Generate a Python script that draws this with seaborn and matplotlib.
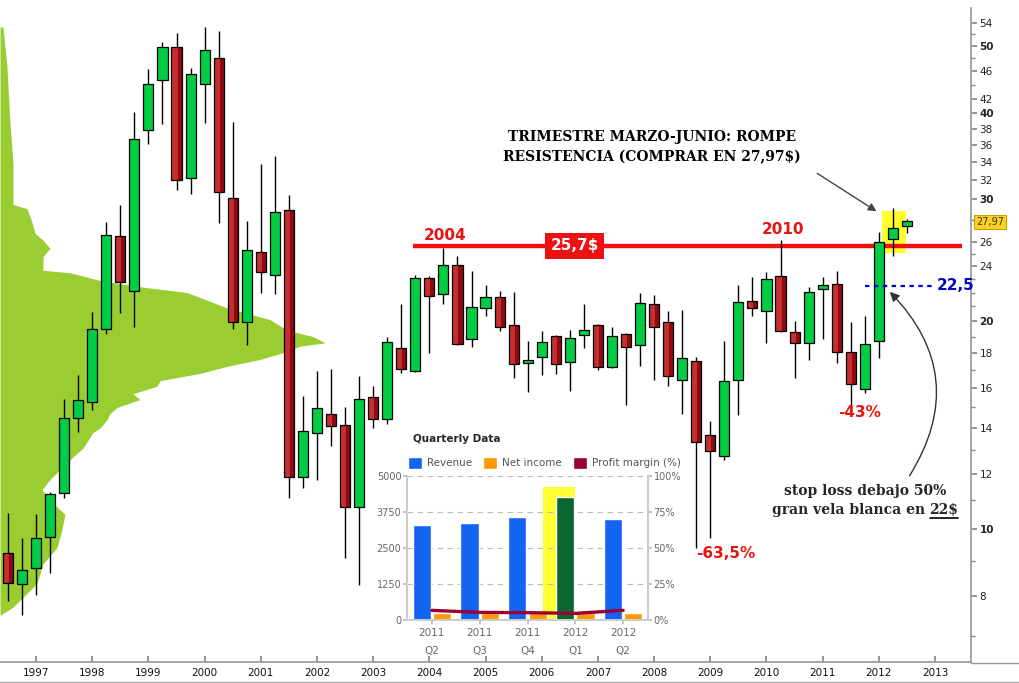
import numpy as np
import pandas as pd
import matplotlib
matplotlib.use("Agg")
import matplotlib.pyplot as plt
import seaborn as sns
from matplotlib.patches import Rectangle
from matplotlib.lines import Line2D

sns.set_theme(style="white")
plt.rcParams['font.family'] = ['DejaVu Sans']

# ---------------- data ----------------
periods = ["1996Q3", "1996Q4",
           "1997Q1", "1997Q2", "1997Q3", "1997Q4",
           "1998Q1", "1998Q2", "1998Q3", "1998Q4",
           "1999Q1", "1999Q2", "1999Q3", "1999Q4",
           "2000Q1", "2000Q2", "2000Q3", "2000Q4",
           "2001Q1", "2001Q2", "2001Q3", "2001Q4",
           "2002Q1", "2002Q2", "2002Q3", "2002Q4",
           "2003Q1", "2003Q2", "2003Q3", "2003Q4",
           "2004Q1", "2004Q2", "2004Q3", "2004Q4",
           "2005Q1", "2005Q2", "2005Q3", "2005Q4",
           "2006Q1", "2006Q2", "2006Q3", "2006Q4",
           "2007Q1", "2007Q2", "2007Q3", "2007Q4",
           "2008Q1", "2008Q2", "2008Q3", "2008Q4",
           "2009Q1", "2009Q2", "2009Q3", "2009Q4",
           "2010Q1", "2010Q2", "2010Q3", "2010Q4",
           "2011Q1", "2011Q2", "2011Q3", "2011Q4",
           "2012Q1", "2012Q2", "2012Q3"]

open_ = [9.23, 8.32,
         8.78, 9.74, 11.27, 14.48,
         15.27, 19.48, 26.56, 22.11,
         37.81, 44.68, 49.87, 32.22,
         44.09, 48.06, 30.14, 19.94,
         25.18, 23.32, 28.96, 11.89,
         13.77, 14.67, 14.15, 10.76,
         15.53, 14.43, 18.28, 16.94,
         23.09, 21.88, 24.11, 18.84,
         20.89, 21.67, 19.74, 17.39,
         17.74, 19.03, 17.45, 19.10,
         19.74, 17.16, 19.16, 18.44,
         21.17, 19.94, 16.43, 17.51,
         13.68, 12.76, 16.43, 21.38,
         20.68, 23.24, 19.29, 18.59,
         22.26, 22.63, 18.04, 15.95,
         18.71, 26.29, 27.46]

high = [10.55, 9.70,
        10.51, 11.31, 15.42, 16.71,
        20.60, 27.82, 29.45, 40.15,
        46.35, 50.70, 52.24, 46.50,
        53.30, 52.60, 38.83, 27.92,
        33.76, 34.67, 30.44, 15.58,
        16.94, 17.05, 15.02, 16.65,
        16.11, 18.96, 21.17, 23.32,
        23.24, 25.52, 24.84, 23.63,
        22.56, 22.11, 22.04, 18.71,
        19.35, 19.10, 19.42, 21.17,
        19.80, 19.61, 19.22, 21.96,
        21.81, 20.68, 20.75, 17.74,
        14.33, 18.71, 22.56, 23.16,
        23.55, 26.20, 20.00, 22.41,
        23.16, 23.63, 19.94, 20.34,
        26.91, 29.15, 28.10]

low = [7.87, 7.51,
       8.03, 8.64, 11.09, 13.82,
       14.87, 19.16, 20.54, 19.61,
       36.09, 38.57, 30.96, 30.55,
       38.70, 27.73, 19.48, 18.44,
       21.96, 21.89, 11.09, 11.46,
       11.78, 13.19, 9.08, 8.30,
       14.00, 14.19, 16.82, 16.90,
       17.98, 21.17, 18.44, 18.36,
       20.34, 19.35, 16.54, 15.79,
       16.71, 16.76, 15.84, 18.28,
       16.99, 17.10, 15.12, 17.22,
       16.43, 16.11, 14.67, 9.39,
       9.70, 12.59, 14.62, 20.34,
       18.59, 19.29, 16.54, 17.56,
       18.84, 17.39, 15.02, 15.74,
       17.68, 24.84, 26.82]

close = [8.35, 8.72,
         9.70, 11.24, 14.48, 15.37,
         19.48, 26.65, 22.78, 36.69,
         44.09, 49.87, 32.01, 45.58,
         49.37, 30.75, 19.94, 25.35,
         23.55, 28.77, 11.89, 13.86,
         14.97, 14.10, 10.76, 15.42,
         14.43, 18.64, 17.05, 23.09,
         21.74, 24.11, 18.52, 20.96,
         21.67, 19.61, 17.33, 17.56,
         18.64, 17.33, 18.90, 19.42,
         17.16, 19.03, 18.36, 21.24,
         19.61, 16.65, 17.68, 13.36,
         12.97, 16.38, 21.31, 20.89,
         23.01, 19.35, 18.59, 22.04,
         22.56, 18.04, 16.21, 18.52,
         26.03, 27.27, 27.97]

# volume-at-price profile (price level, relative volume)
profile_price = [53.3, 46.6, 38.7, 33.8, 29.5, 29.1, 27.8, 26.8, 26.2, 25.5,
                 24.8, 23.7, 23.5, 22.9, 22.4, 22.0, 20.9, 20.1, 19.4, 19.0,
                 18.6, 18.4, 18.0, 17.6, 17.2, 16.8, 16.4, 16.1, 15.7, 15.4,
                 15.0, 14.7, 14.4, 14.0, 13.8, 13.1, 12.6, 11.8, 11.4, 11.0,
                 10.5, 10.0, 9.4, 8.9, 8.35, 7.96, 7.71, 7.5]
profile_volume = [3, 7, 10, 13, 13, 27, 32, 35, 43, 50,
                  43, 43, 70, 100, 143, 187, 227, 270, 287, 313,
                  325, 300, 283, 260, 227, 200, 160, 157, 133, 140,
                  117, 110, 107, 100, 93, 83, 70, 50, 42, 50,
                  65, 62, 57, 43, 37, 23, 13, 0]

year_ticks = list(range(1997, 2014))
price_major = [8, 10, 12, 14, 16, 18, 20, 24, 26, 30, 32, 34, 36, 38, 40, 42, 46, 50, 54]
price_minor = [7, 9, 11, 13, 15, 17, 19, 21, 22, 23, 25, 28, 44, 48, 52]

resistance = 25.7
stop_level = 22.5
last_price = 27.97

# inset quarterly data
q_labels = ["2011\nQ2", "2011\nQ3", "2011\nQ4", "2012\nQ1", "2012\nQ2"]
revenue = [3300, 3380, 3590, 4280, 3500]
net_income = [250, 240, 250, 235, 255]
profit_margin = [6.7, 5.3, 5.1, 4.6, 6.7]

# ---------------- figure ----------------
W, H = 1019, 683
fig = plt.figure(figsize=(W / 100, H / 100), dpi=100)
fig.patch.set_facecolor("white")


def fx(px):
    return px / W


def fy(py):
    return 1 - py / H


ax = fig.add_axes([0, fy(662), fx(971), (662 - 8) / H])
ax.set_yscale("log")
axp = ax.twiny()
axp.set_zorder(ax.get_zorder() - 1)
ax.patch.set_visible(False)

# volume profile
axp.fill_betweenx(profile_price, 0, profile_volume, color="#9ACD32", lw=0)
axp.set_xlim(0, 971)
axp.set_xticks([])
for s in axp.spines.values():
    s.set_visible(False)

# candles
x = np.array([int(p[:4]) + (int(p[-1]) - 1) / 4 for p in periods])
o = np.array(open_)
c = np.array(close)
hi = np.array(high)
lo = np.array(low)
up = c >= o
bottom = np.minimum(o, c)
height = np.maximum(np.abs(c - o), 0.12)
bw = 0.18

# yellow highlight for last candles
ax.add_patch(Rectangle((2012.05, 25.1), 0.43, 3.8, fc="#FFFF2A", ec="none", zorder=1.2))

ax.hlines(resistance, 2003.71, 2013.48, color="#EE1111", lw=3.2, zorder=1.5)

ax.vlines(x, lo, hi, color="black", lw=1, zorder=2)
cols = np.where(up, "#00CC44", "#C4302F")
ax.bar(x, height, bottom=bottom, width=bw, color=cols, lw=0, zorder=3)
ax.bar(x[~up] + bw * 0.3, height[~up], bottom=bottom[~up], width=bw * 0.4,
       color="#8E0A12", lw=0, zorder=3.1)
ax.bar(x, height, bottom=bottom, width=bw, facecolor="none", edgecolor="black",
       lw=0.9, zorder=3.2)

ax.set_xlim(1996.358, 2013.64)
ax.set_ylim(6.42, 56.8)
axp.set_ylim(6.42, 56.8)

# axes styling
for s in ["top", "left"]:
    ax.spines[s].set_visible(False)
ax.spines["right"].set_color("#999999")
ax.spines["bottom"].set_color("#999999")
ax.yaxis.tick_right()
ax.set_yticks(price_major)
ax.set_yticklabels([str(v) for v in price_major])
ax.set_yticks(price_minor, minor=True)
ax.set_yticklabels([], minor=True)
ax.tick_params(axis="y", which="both", direction="out", color="#888888",
               labelsize=7.5, labelcolor="#222222", pad=2, right=True, left=False)
ax.tick_params(axis="y", which="major", length=4)
ax.tick_params(axis="y", which="minor", length=3)
for lab, v in zip(ax.get_yticklabels(), price_major):
    if v % 10 == 0:
        lab.set_fontweight("bold")
ax.set_xticks(year_ticks)
ax.set_xticklabels([str(y) for y in year_ticks])
ax.tick_params(axis="x", direction="in", length=4, color="#888888",
               labelsize=7.5, labelcolor="#111111", pad=4, bottom=True)
ax.grid(False)
ax.set_xlabel("")
ax.set_ylabel("")

fig.add_artist(Line2D([fx(971), 1], [fy(662.5), fy(662.5)], color="#999999", lw=1))
fig.add_artist(Line2D([0, 1], [fy(681.5), fy(681.5)], color="#aaaaaa", lw=1))

# labels on chart
red = "#E8140F"
ax.text(2004.28, 26.6, "2004", color=red, weight="bold", fontsize=11, ha="center", va="center", zorder=6)
ax.text(2010.29, 27.1, "2010", color=red, weight="bold", fontsize=11, ha="center", va="center", zorder=6)
ax.text(2006.59, resistance, "25,7$", color="white", weight="bold", fontsize=11,
        ha="center", va="center", zorder=6,
        bbox=dict(boxstyle="square,pad=0.35", fc="#EE1111", ec="none"))
ax.text(2011.66, 14.77, "-43%", color=red, weight="bold", fontsize=11, ha="center", va="center", zorder=6)
ax.text(2009.28, 9.23, "-63,5%", color=red, weight="bold", fontsize=11, ha="center", va="center", zorder=6)

ax.hlines(stop_level, 2011.75, 2012.94, colors="#0000CC", linestyles=(0, (2, 2)), lw=1.6, zorder=4)
ax.text(2013.37, stop_level, "22,5", color="#0000CC", weight="bold", fontsize=11,
        ha="center", va="center", zorder=6, clip_on=False)

fig.text(fx(990), fy(222), "27,97", fontsize=7, ha="center", va="center", color="#333333",
         bbox=dict(boxstyle="square,pad=0.25", fc="#FFD21F", ec="#C8A000", lw=0.8))

fig.text(fx(652), fy(147), "TRIMESTRE MARZO-JUNIO: ROMPE\nRESISTENCIA (COMPRAR EN 27,97$)",
         ha="center", va="center", family="DejaVu Serif", weight="bold", fontsize=10,
         linespacing=1.5, color="black")
ax.annotate("", xy=(2012.0, 28.7), xytext=(2010.86, 32.9),
            arrowprops=dict(arrowstyle="-|>", color="#444444", lw=1, mutation_scale=12))
ax.annotate("", xy=(2012.16, 22.2), xytext=(2012.52, 11.85),
            arrowprops=dict(arrowstyle="-|>", color="#333333", lw=1, mutation_scale=14,
                            connectionstyle="arc3,rad=0.4"))

# stop loss text (with underline)
cx = 865
t1 = fig.text(fx(cx), fy(491), "stop loss debajo 50%", ha="center", va="center",
              family="DejaVu Serif", weight="bold", fontsize=10)
t2 = fig.text(0, fy(510), "gran vela blanca en ", ha="left", va="center",
              family="DejaVu Serif", weight="bold", fontsize=10)
t3 = fig.text(0, fy(510), "22$", ha="left", va="center",
              family="DejaVu Serif", weight="bold", fontsize=10)
fig.canvas.draw()
r = fig.canvas.get_renderer()
w2 = t2.get_window_extent(r).width
w3 = t3.get_window_extent(r).width
start = cx - (w2 + w3) / 2
t2.set_x(fx(start))
t3.set_x(fx(start + w2))
fig.canvas.draw()
bb = t3.get_window_extent(r)
fig.add_artist(Line2D([bb.x0 / W, bb.x1 / W], [(bb.y0 - 1) / H, (bb.y0 - 1) / H],
                      color="black", lw=1.2))

# ---------------- inset: quarterly data ----------------
axi = fig.add_axes([fx(407), fy(620), fx(648) - fx(407), (620 - 476) / H])
axi.set_facecolor("white")
df = pd.DataFrame({"quarter": q_labels, "Revenue": revenue, "Net income": net_income})
dfm = df.melt(id_vars="quarter", var_name="metric", value_name="value")
axi.add_patch(Rectangle((2.33, 0), 0.67, 4620, fc="#FFFF33", ec="none", zorder=0.5))
sns.barplot(data=dfm, x="quarter", y="value", hue="metric",
            palette=["#1464F4", "#FF9900"], width=0.85, gap=0.1, saturation=1,
            ax=axi, legend=False, zorder=1)
axi.containers[0][3].set_facecolor("#0B6632")
axi.set_xlim(-0.52, 4.52)
axi.set_ylim(0, 5000)
axi.set_yticks([0, 1250, 2500, 3750, 5000])
axi.set_yticklabels(["0", "1250", "2500", "3750", "5000"])
axi.yaxis.grid(True, ls=(0, (5, 4)), color="#bbbbbb", lw=0.8)
axi.set_axisbelow(True)
axi.tick_params(axis="y", length=3, color="#bbbbbb", labelsize=7, labelcolor="#666666", pad=1, left=True)
axi.tick_params(axis="x", length=3, color="#bbbbbb", labelsize=7.5, labelcolor="#666666", pad=3, bottom=True)
for lab in axi.get_xticklabels():
    lab.set_linespacing(2.0)
axi.set_xlabel("")
axi.set_ylabel("")
axi.spines["top"].set_visible(False)
for s in ["left", "right", "bottom"]:
    axi.spines[s].set_color("#cccccc")

axm = axi.twinx()
sns.lineplot(x=list(range(len(profit_margin))), y=profit_margin, ax=axm,
             color="#990033", lw=2.4)
axm.set_ylim(0, 100)
axm.set_xlim(-0.52, 4.52)
axm.set_yticks([0, 25, 50, 75, 100])
axm.set_yticklabels(["0%", "25%", "50%", "75%", "100%"])
axm.tick_params(axis="y", length=3, color="#bbbbbb", labelsize=7, labelcolor="#666666", pad=1, right=True)
axm.set_ylabel("")
axm.spines["top"].set_visible(False)
for s in ["left", "right", "bottom"]:
    axm.spines[s].set_color("#cccccc")

fig.text(fx(413), fy(439), "Quarterly Data", weight="bold", fontsize=7.5, va="center", ha="left")
handles = [Rectangle((0, 0), 1, 1, fc="#1464F4"), Rectangle((0, 0), 1, 1, fc="#FF9900"),
           Rectangle((0, 0), 1, 1, fc="#990033")]
fig.legend(handles, ["Revenue", "Net income", "Profit margin (%)"], loc="center left",
           bbox_to_anchor=(fx(408), fy(463)), ncol=3, frameon=False, fontsize=7.5,
           handlelength=1.3, handleheight=1.3, handletextpad=0.5, columnspacing=1.1,
           labelcolor="#555555", borderpad=0, borderaxespad=0)

fig.savefig("out.png", dpi=100, facecolor="white")
